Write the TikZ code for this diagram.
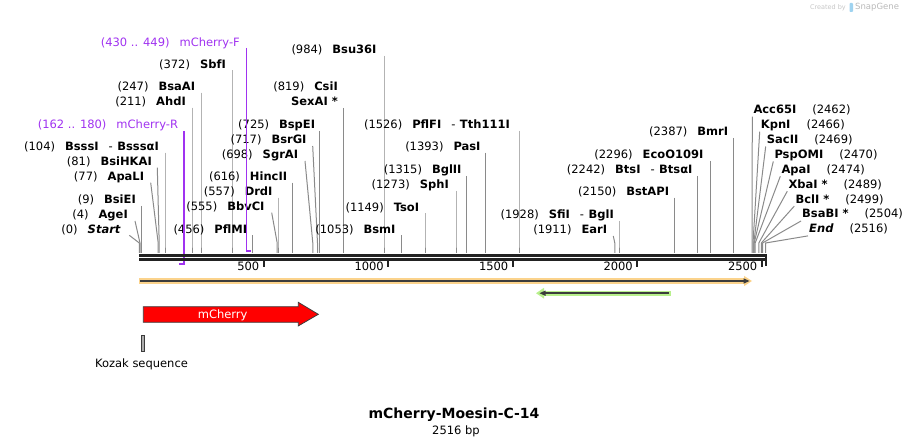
\documentclass[tikz,border=0pt]{standalone}
\usepackage{fontspec}
\setmainfont{DejaVu Sans}[ItalicFont={DejaVu Sans Oblique},BoldFont={DejaVu Sans Bold},BoldItalicFont={DejaVu Sans Bold Oblique}]
\usetikzlibrary{calc}
\definecolor{cutgray}{HTML}{8A8A8A}
\definecolor{primer}{RGB}{160,50,240}
\definecolor{barblack}{HTML}{222222}
\definecolor{orangefill}{HTML}{FBD38C}
\definecolor{greenfill}{HTML}{B8F08C}
\definecolor{featline}{HTML}{3C3C3C}
\definecolor{logoblue}{HTML}{9FD3F0}
\tikzset{
  lbl/.style={inner sep=0pt,text height=8pt,text depth=0pt,font=\fontsize{11.5}{13}\selectfont},
  cutline/.style={cutgray,line width=1pt},
  primerline/.style={primer,line width=1.1pt},
  primertick/.style={primer,line width=1.8pt},
  barline/.style={barblack,line width=2.4pt},
  tickmark/.style={barblack,line width=2pt},
  ticklbl/.style={inner sep=0pt,text height=8pt,text depth=0pt,anchor=east,font=\fontsize{11.5}{13}\selectfont},
}
\newcommand\sepdash{\textmd{\hspace{10pt}-\hspace{4.5pt}}}
% left-hand label: name, number, text right edge, y, line start x, cut x, node name
\newcommand\LL[7]{%
  \node[lbl,anchor=east] (#7) at (#3,#4) {(#2)\hspace{10pt}\textbf{#1}};
  \draw[cutline] (#5,#4+6) -- (#6,243) -- (#6,253);
}
% right-hand label: name, number, text left edge, y, cut x, node name
\newcommand\RL[6]{%
  \node[lbl,anchor=west] (#6) at (#3,#4) {\textbf{#1}\hspace{16pt}(#2)};
  \draw[cutline] (#3-1,#4+7) -- (#5,243) -- (#5,253);
}
\begin{document}
\begin{tikzpicture}[x=1pt,y=-1pt]
\useasboundingbox (0,0) rectangle (907,446);

% ---- cut sites, left-hand labels
\LL{\textit{Start}}{0}{121}{229.3}{129.3}{139.3}{start}
\LL{AgeI}{4}{128}{215}{135}{140}{agei}
\LL{BsiEI}{9}{136}{200}{141.5}{141.5}{bsiei}
\LL{ApaLI}{77}{144.3}{176.7}{150.7}{158.2}{apali}
\LL{BsiHKAI}{81}{152}{161.7}{157.3}{159.2}{bsihkai}
\LL{BsssI\sepdash BsssαI}{104}{159}{146.7}{165}{165}{bsssi}
\LL{AhdI}{211}{186}{101.7}{192}{192}{ahdi}
\LL{BsaAI}{247}{195.3}{86.7}{201}{201}{bsaai}
\LL{SbfI}{372}{226}{64.3}{232}{232}{sbfi}
\LL{PflMI}{456}{247.3}{229.3}{252.7}{252.7}{pflmi}
\LL{BbvCI}{555}{264.7}{206.7}{271.7}{277.2}{bbvci}
\LL{DrdI}{557}{272.7}{191.7}{278}{278}{drdi}
\LL{HincII}{616}{287.3}{176.7}{292.5}{292.5}{hincii}
\LL{SgrAI}{698}{298.3}{155}{305}{312.8}{sgrai}
\LL{BsrGI}{717}{306.7}{140}{312.7}{317.5}{bsrgi}
\LL{BspEI}{725}{315.3}{125}{319.5}{319.5}{bspei}
\node[lbl,anchor=east] (csii) at (338,86.7) {(819)\hspace{10pt}\textbf{CsiI}};
\node[lbl,anchor=east] (sexai) at (338,101.7) {\textbf{SexAI *}};
\draw[cutline] (343,108) -- (343,253);
\LL{Bsu36I}{984}{376.7}{50}{384}{384}{bsu}
\LL{BsmI}{1053}{395.7}{229.3}{401.2}{401.2}{bsmi}
\LL{TsoI}{1149}{419.3}{207.3}{425}{425}{tsoi}
\LL{SphI}{1273}{449}{185}{456}{456}{sphi}
\LL{BglII}{1315}{461.7}{170}{466.4}{466.4}{bglii}
\LL{PasI}{1393}{480.7}{146.7}{485.9}{485.9}{pasi}
\LL{PflFI\sepdash Tth111I}{1526}{510}{125}{519}{519}{pflfi}
\LL{EarI}{1911}{607.3}{230}{613.3}{614.8}{eari}
\LL{SfiI\sepdash BglI}{1928}{614}{215}{619}{619}{sfii}
\LL{BstAPI}{2150}{669.3}{191.7}{674.4}{674.4}{bstapi}
\LL{BtsI\sepdash BtsαI}{2242}{692.7}{170}{697.3}{697.3}{btsi}
\LL{EcoO109I}{2296}{703.5}{155}{710.7}{710.7}{eco}
\LL{BmrI}{2387}{728.3}{132}{733.4}{733.4}{bmri}

% ---- right-hand labels
\RL{Acc65I}{2462}{753.3}{109.7}{752}{acc}
\RL{KpnI}{2466}{760.7}{124.6}{753}{kpni}
\RL{SacII}{2469}{766.7}{139.5}{753.8}{sacii}
\RL{PspOMI}{2470}{774.3}{154.4}{754.2}{pspomi}
\RL{ApaI}{2474}{781.3}{169.3}{755.2}{apai}
\RL{XbaI *}{2489}{788.3}{184.2}{758.8}{xbai}
\RL{BclI *}{2499}{795.3}{199.1}{761.3}{bcli}
\RL{BsaBI *}{2504}{802}{214}{762.5}{bsabi}
\RL{\textit{End}}{2516}{809}{228.9}{765.5}{endl}

% ---- primers
\node[lbl,anchor=east,text=primer] (primR) at (178.3,125) {(162 .. 180)\hspace{10pt}mCherry-R};
\draw[primerline] (184,131) -- (184,264.5);
\draw[primertick] (179.3,264) -- (184.5,264);
\node[lbl,anchor=east,text=primer] (primF) at (240,42.3) {(430 .. 449)\hspace{10pt}mCherry-F};
\draw[primerline] (246.3,48) -- (246.3,251);
\draw[primertick] (245.8,251) -- (251,251);

% ---- sequence bar
\draw[barline] (139,255.5) -- (766,255.5);
\draw[barline] (139,259.5) -- (766,259.5);
\draw[tickmark] (766,254.3) -- (766,266);
\foreach \p/\t in {263.5/500,388/1000,512.5/1500,637/2000,761.5/2500}{
  \draw[tickmark] (\p,260.5) -- (\p,267);
  \node[ticklbl] at (\p-4,267) {\t};
}

% ---- features
\fill[orangefill] (139,278.3) rectangle (745,283.7);
\fill[orangefill] (744,275.8) -- (752,281) -- (744,286.2) -- cycle;
\draw[featline,line width=1.6pt] (140,281) -- (745,281);
\fill[featline] (743.5,278.3) -- (749.5,281) -- (743.5,283.7) -- cycle;

\fill[greenfill] (543,290.5) rectangle (671,296);
\fill[greenfill] (544,287.8) -- (536,293.2) -- (544,298.6) -- cycle;
\draw[featline,line width=1.6pt] (543,293.2) -- (669,293.2);
\fill[featline] (545.5,290.5) -- (539.5,293.2) -- (545.5,295.9) -- cycle;

\draw[fill=red,draw=featline,line width=0.8pt] (143.3,306.7) -- (298.3,306.7) -- (298.3,302.3) -- (318.3,314.3) -- (298.3,325.9) -- (298.3,322.3) -- (143.3,322.3) -- cycle;
\node[lbl,anchor=center,text=white] (mcherry) at (222.7,314.3) {mCherry};

\draw[fill=gray!65,draw=featline,line width=0.7pt] (141.7,335.3) rectangle (144.5,351.5);
\node[lbl,anchor=center] (kozak) at (141.5,363.5) {Kozak sequence};

% ---- title
\node[inner sep=0pt,font=\fontsize{14}{16}\selectfont\bfseries] (title) at (454,414.5) {mCherry-Moesin-C-14};
\node[inner sep=0pt,font=\fontsize{11.5}{13}\selectfont] (bp) at (456,431) {2516 bp};

% ---- credit
\node[inner sep=0pt,anchor=east,text=gray!45,font=\fontsize{6.5}{8}\selectfont] (cred) at (846,7.5) {Created by};
\fill[logoblue,rounded corners=0.8pt] (849.5,3) rectangle (853,12);
\node[inner sep=0pt,anchor=west,text=gray!55,font=\fontsize{8.5}{10}\selectfont] (sg) at (855,7.5) {SnapGene};
\end{tikzpicture}
\end{document}
